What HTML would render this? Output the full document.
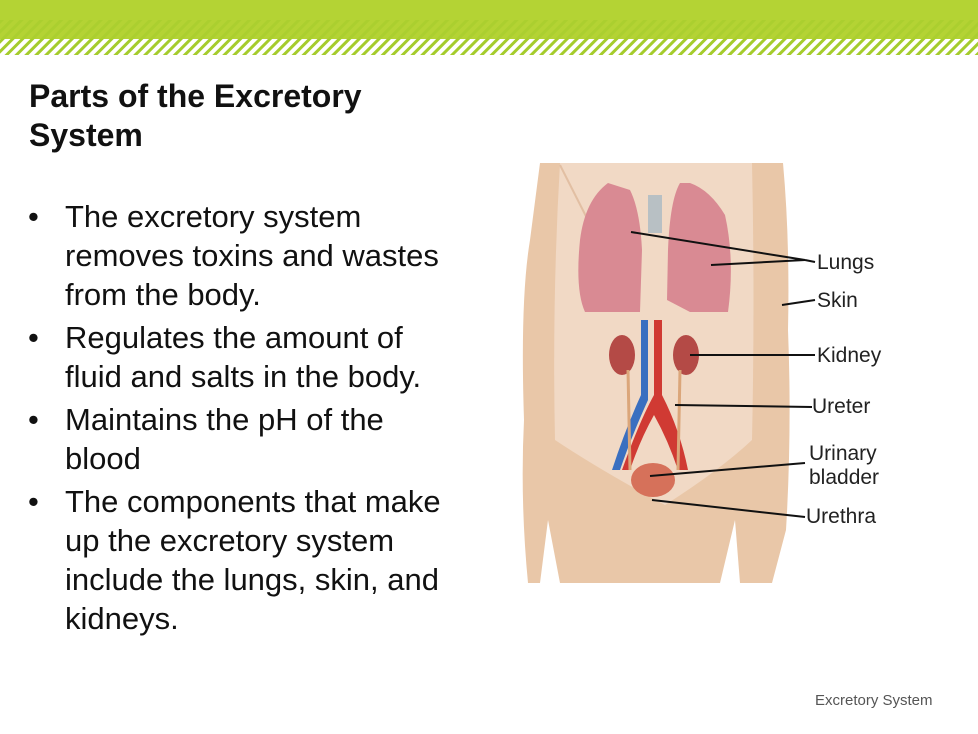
<!DOCTYPE html>
<html><head><style>
body{margin:0;width:978px;height:734px;background:#fff;font-family:"Liberation Sans",sans-serif;position:relative;overflow:hidden}
.top{position:absolute;left:0;top:0;width:978px;height:58px}
h1{position:absolute;left:29px;top:77px;margin:0;font-size:32px;line-height:39px;font-weight:bold;color:#111}
ul{position:absolute;left:28px;top:197px;margin:0;padding:0;list-style:none;width:430px}
li{position:relative;padding-left:37px;font-size:31px;line-height:39px;color:#111;margin-bottom:4px}
li:before{content:"•";position:absolute;left:0;top:0}
.foot{position:absolute;left:815px;top:692px;font-size:15px;color:#555}
svg.fig{position:absolute;left:0;top:0}
</style></head><body>
<svg class="top" width="978" height="58">
<defs><pattern id="h" width="7" height="7" patternUnits="userSpaceOnUse" patternTransform="rotate(45)"><rect width="3" height="7" fill="#a5cc2c"/></pattern></defs>
<rect width="978" height="20" fill="#b4d334"/>
<rect y="20" width="978" height="19" fill="#b4d334"/>
<rect y="20" width="978" height="19" fill="url(#h)" opacity=".6"/>
<rect y="39" width="978" height="16" fill="url(#h)"/>
</svg>
<h1>Parts of the Excretory<br>System</h1>
<ul>
<li>The excretory system removes toxins and wastes from the body.</li>
<li>Regulates the amount of fluid and salts in the body.</li>
<li>Maintains the pH of the blood</li>
<li>The components that make up the excretory system include the lungs, skin, and kidneys.</li>
</ul>
<svg class="fig" width="978" height="734">
<!-- body -->
<path d="M540 163 L783 163 Q790 240 788 330 Q792 430 786 530 L772 583 L740 583 L735 520 L720 583 L560 583 L548 520 L540 583 L528 583 Q520 500 524 420 Q520 300 530 240 Z" fill="#e9c7a8"/>
<path d="M560 163 L752 163 Q755 300 752 440 Q720 470 665 505 Q600 470 555 440 Q552 300 560 163Z" fill="#f1d9c5"/>
<line x1="560" y1="165" x2="598" y2="240" stroke="#e2bfa3" stroke-width="2"/>
<!-- lungs -->
<path d="M608 183 Q585 200 580 240 Q575 290 585 312 L640 312 L642 250 Q640 210 630 190 Z" fill="#d98a93"/>
<path d="M680 183 Q670 200 668 250 L667 300 L690 312 L728 312 Q735 260 725 215 Q710 190 690 183Z" fill="#d98a93"/>
<rect x="648" y="195" width="14" height="38" fill="#b8c0c4"/>
<!-- vessels -->
<path d="M641 320 L648 320 L648 400 Q630 440 620 470 L612 470 Q625 430 641 395 Z" fill="#3a6fc0"/>
<path d="M654 320 L662 320 L662 395 Q680 430 688 470 L678 470 Q668 440 654 415 Q640 440 630 470 L622 470 Q640 420 654 395 Z" fill="#d03a33"/>
<!-- kidneys -->
<ellipse cx="622" cy="355" rx="13" ry="20" fill="#b44a46"/>
<ellipse cx="686" cy="355" rx="13" ry="20" fill="#b44a46"/>
<path d="M628 370 L630 470 M680 370 L678 470" stroke="#dba67a" stroke-width="3" fill="none"/>
<!-- bladder -->
<ellipse cx="653" cy="480" rx="22" ry="17" fill="#d6715a"/>
<!-- leaders -->
<g stroke="#111" stroke-width="2" fill="none">
<line x1="631" y1="232" x2="805" y2="260"/><line x1="711" y1="265" x2="805" y2="260"/>
<line x1="805" y1="260" x2="815" y2="262"/>
<line x1="782" y1="305" x2="815" y2="300"/>
<line x1="690" y1="355" x2="815" y2="355"/>
<line x1="675" y1="405" x2="812" y2="407"/>
<line x1="650" y1="476" x2="805" y2="463"/>
<line x1="652" y1="500" x2="805" y2="517"/>
</g>
<g font-size="21" fill="#222" font-family="Liberation Sans,sans-serif">
<text x="817" y="269">Lungs</text>
<text x="817" y="307">Skin</text>
<text x="817" y="362">Kidney</text>
<text x="812" y="413">Ureter</text>
<text x="809" y="460">Urinary</text>
<text x="809" y="484">bladder</text>
<text x="806" y="523">Urethra</text>
</g>
</svg>
<div class="foot">Excretory System</div>
</body></html>
